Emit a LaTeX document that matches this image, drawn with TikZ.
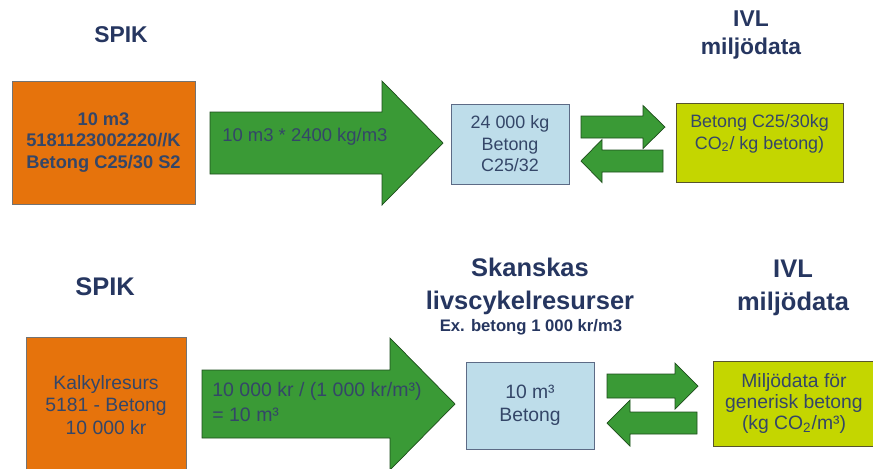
\documentclass[tikz,border=0pt]{standalone}
\usepackage{fontspec}
\setmainfont{Liberation Sans}
\usepackage{xcolor}
\usepackage{tikz}
\definecolor{navy}{RGB}{38,54,96}
\definecolor{slate}{RGB}{52,70,104}
\definecolor{spikorange}{RGB}{230,115,12}
\definecolor{arrowgreen}{RGB}{58,154,54}
\definecolor{lcablue}{RGB}{190,221,234}
\definecolor{ivllime}{RGB}{196,214,0}
\tikzset{
  title/.style={font=\bfseries\fontsize{13}{16}\selectfont, text=navy, align=center, inner sep=0pt},
  bigtitle/.style={font=\bfseries\fontsize{14.5}{18.7}\selectfont, text=navy, align=center, inner sep=0pt},
  box/.style={draw, thin, align=center, inner sep=0pt, text=slate},
  spikbox/.style={box, fill=spikorange, draw=black!55},
  lcabox/.style={box, fill=lcablue, draw=slate!80},
  ivlbox/.style={box, fill=ivllime, draw=black!50!olive},
  blockarrow/.style={fill=arrowgreen, draw=arrowgreen!50!black, thin},
  arrowtext/.style={text=slate, align=left, inner sep=0pt, anchor=west}
}

\begin{document}
\begin{tikzpicture}[x=0.02cm, y=-0.02cm]
        \clip (0,0) rectangle (873,468);

        % upper row
        \node[title] (spikA) at (121,35) {SPIK};
        \node[title] (ivlA) at (751,35) {IVL\\miljödata};
        \node[spikbox, minimum width=3.66cm, minimum height=2.46cm,
              font=\bfseries\fontsize{10.4}{12.3}\selectfont] (resA) at (103.5,142.5)
              {10 m3\\5181123002220//K\\Betong C25/30 S2};
        \node[lcabox, minimum width=2.36cm, minimum height=1.6cm,
              font=\fontsize{10.2}{12.2}\selectfont] (lcaA) at (510,144)
              {24 000 kg\\Betong\\C25/32};
        \node[ivlbox, minimum width=3.34cm, minimum height=1.58cm,
              font=\fontsize{10.2}{12.4}\selectfont] (envA) at (759.5,142.5)
              {Betong C25/30kg\\CO\textsubscript{2}/ kg betong)\\\mbox{}};

        % lower row
        \node[bigtitle] (spikB) at (105,287) {SPIK};
        \node[bigtitle] (skanska) at (530,286.5) {Skanskas\\livscykelresurser};
        \node[title, font=\bfseries\fontsize{9.5}{11}\selectfont] (price) at (531,327) {Ex. betong 1 000 kr/m3};
        \node[bigtitle] (ivlB) at (793,287.5) {IVL\\miljödata};
        \node[spikbox, minimum width=3.2cm, minimum height=2.72cm,
              font=\fontsize{11}{13}\selectfont] (resB) at (106,405)
              {Kalkylresurs\\5181 - Betong\\10 000 kr};
        \node[lcabox, minimum width=2.56cm, minimum height=1.74cm,
              font=\fontsize{11}{13}\selectfont] (lcaB) at (530,405.5)
              {10 m³\\Betong};
        \node[ivlbox, minimum width=3.24cm, minimum height=1.7cm,
              font=\fontsize{11}{12.2}\selectfont] (envB) at (794,403.5)
              {Miljödata för\\generisk betong\\(kg CO\textsubscript{2}/m³)};

        % block arrows: tail / head base / tip / centre / shaft half / head half
        \foreach \xa/\xh/\xt/\yc/\hs/\hh in {
          210/382/443/143/31/62,
          581/643/665/127/11/21.5,
          663/602/581/161/11/21.5,
          202/390/455/404/34/66,
          607/675/698/386/12/23,
          697/630/607/423/11/23}
        \draw[blockarrow] (\xa,\yc-\hs) -- (\xh,\yc-\hs) -- (\xh,\yc-\hh) -- (\xt,\yc)
          -- (\xh,\yc+\hh) -- (\xh,\yc+\hs) -- (\xa,\yc+\hs) -- cycle;

        \node[arrowtext, font=\fontsize{10.5}{12.6}\selectfont] (calcA) at (222,137) {10 m3 * 2400 kg/m3};
        \node[arrowtext, font=\fontsize{11.1}{14.4}\selectfont] (calcB) at (212,402)
              {10 000 kr / (1 000 kr/m³)\\= 10 m³};
      \end{tikzpicture}
\end{document}
